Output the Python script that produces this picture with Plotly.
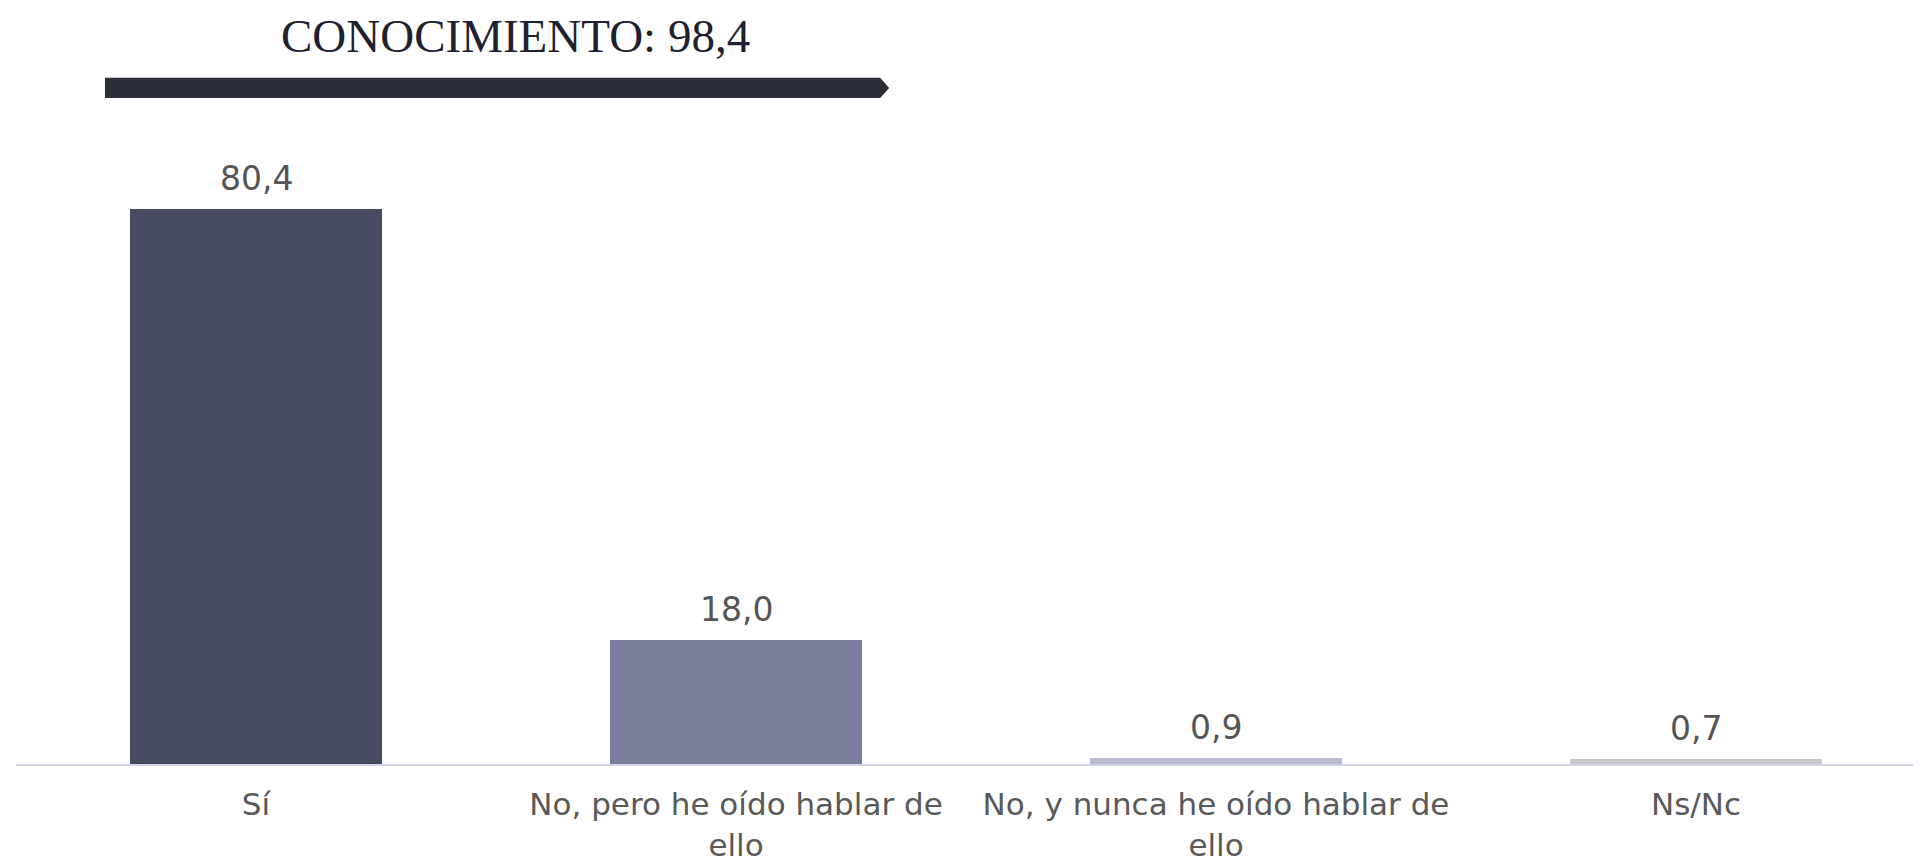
import plotly.graph_objects as go

categories = ["Sí", "No, pero he oído hablar de<br>ello", "No, y nunca he oído hablar de<br>ello", "Ns/Nc"]
values = [80.4, 18.0, 0.9, 0.7]
value_labels = ["80,4", "18,0", "0,9", "0,7"]
bar_colors = ["#464b5f", "#7b7f9c", "#b9bbd0", "#c6c6c8"]
title_text = "CONOCIMIENTO: 98,4"

x_idx = list(range(len(categories)))

fig = go.Figure()
fig.add_trace(go.Bar(
    x=x_idx,
    y=values,
    marker=dict(color=bar_colors, line=dict(width=0)),
    width=0.525,
    hoverinfo="skip",
))

annotations = [dict(
    x=i, y=v, xref="x", yref="y", text=lbl,
    xanchor="center", yanchor="bottom", yshift=9,
    showarrow=False,
    font=dict(family="DejaVu Sans", size=33, color="#555555"),
) for i, v, lbl in zip(x_idx, values, value_labels)]

annotations.append(dict(
    text=title_text, xref="paper", yref="paper",
    x=0.2635, y=1.096, xanchor="center", yanchor="middle",
    showarrow=False,
    font=dict(family="Liberation Serif", size=47, color="#1f2130"),
))

fig.update_layout(
    width=1905, height=855,
    margin=dict(l=8, r=0, t=92, b=79),
    paper_bgcolor="white", plot_bgcolor="white",
    showlegend=False,
    bargap=0,
    xaxis=dict(
        tickmode="array",
        tickvals=x_idx,
        ticktext=categories,
        range=[-0.5, 3.452],
        showgrid=False, zeroline=False,
        showline=True, linecolor="#d6d6e6", linewidth=2,
        ticks="outside", ticklen=12, tickcolor="rgba(0,0,0,0)",
        tickfont=dict(family="DejaVu Sans", size=31, color="#595959"),
    ),
    yaxis=dict(range=[0, 96.2], visible=False),
    shapes=[dict(
        type="path", xref="paper", yref="paper",
        path="M 0.0469,1.003 L 0.0469,1.0335 L 0.4555,1.0335 L 0.4603,1.0182 L 0.4555,1.003 Z",
        fillcolor="#2a2d3a", line=dict(width=0),
    )],
    annotations=annotations,
)

fig.write_html("out.html")
